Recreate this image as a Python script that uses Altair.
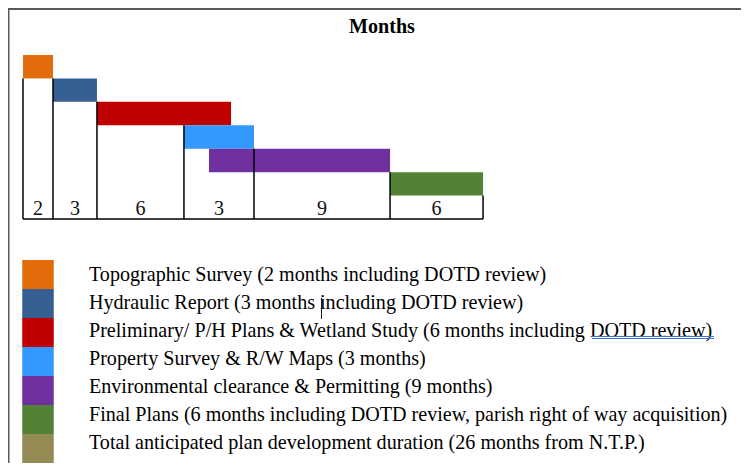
import altair as alt
import pandas as pd

# ---- data ----
tasks = [
    "Topographic Survey",
    "Hydraulic Report",
    "Preliminary/ P/H Plans & Wetland Study",
    "Property Survey & R/W Maps",
    "Environmental clearance & Permitting",
    "Final Plans",
]
# bar extents on the drawn month axis
bar_start = [0, 2, 4.93, 10.73, 12.4, 24.47]
bar_end = [2, 4.93, 13.87, 15.4, 24.47, 30.67]
bar_colors = ["#E36C0A", "#365F91", "#C00000", "#3399FF", "#7030A0", "#538135"]

# table columns under the bars
col_edges = [0, 2, 4.93, 10.73, 15.4, 24.47, 30.67]
col_months = [2, 3, 6, 3, 9, 6]

legend_labels = [
    "Topographic Survey (2 months including DOTD review)",
    "Hydraulic Report (3 months including DOTD review)",
    "Preliminary/ P/H Plans & Wetland Study (6 months including DOTD  review)",
    "Property Survey & R/W Maps (3 months)",
    "Environmental clearance & Permitting (9 months)",
    "Final Plans (6 months including DOTD review, parish right of way acquisition)",
    "Total anticipated plan development duration (26 months from N.T.P.)",
]
legend_colors = bar_colors + ["#948A54"]
title_text = "Months"

# ---- tables ----
n = len(tasks)
bars = pd.DataFrame({
    "task": tasks,
    "start": bar_start,
    "end": bar_end,
    "row": list(range(n)),
    "row_end": [i + 1 for i in range(n)],
    "color": bar_colors,
})
edges = pd.DataFrame({
    "edge": col_edges,
    "top": [max(i, 1) for i in range(len(col_edges))],
    "bottom": [n + 1] * len(col_edges),
})
cols = pd.DataFrame({
    "mid": [(col_edges[i] + col_edges[i + 1]) / 2 for i in range(len(col_months))],
    "months": col_months,
    "base": [n + 1] * len(col_months),
})
baseline_df = pd.DataFrame({"x0": [col_edges[0]], "x1": [col_edges[-1]], "y": [n + 1]})
legend = pd.DataFrame({
    "label": legend_labels,
    "k": list(range(len(legend_labels))),
    "k_end": [i + 1 for i in range(len(legend_labels))],
    "color": legend_colors,
})
one = pd.DataFrame({"t": [title_text]})

W, H = 733, 455
FONT = "Liberation Serif"
FS = 20.1

xs = alt.Scale(domain=[-1, (W - 15) / 15], nice=False, zero=False)
ys = alt.Scale(domain=[-47 / 23.43, (H - 47) / 23.43], reverse=True, nice=False, zero=False)
ls = alt.Scale(domain=[-252 / 29, (H - 252) / 29], reverse=True, nice=False, zero=False)

bar_layer = alt.Chart(bars).mark_rect().encode(
    x=alt.X("start:Q", scale=xs, axis=None),
    x2="end:Q",
    y=alt.Y("row:Q", scale=ys, axis=None),
    y2="row_end:Q",
    color=alt.Color("color:N", scale=None),
)

edge_layer = alt.Chart(edges).mark_rule(color="black", strokeWidth=1.5).encode(
    x=alt.X("edge:Q", scale=xs, axis=None),
    y=alt.Y("top:Q", scale=ys, axis=None),
    y2="bottom:Q",
)

bottom_layer = alt.Chart(baseline_df).mark_rule(color="black", strokeWidth=1.5).encode(
    x=alt.X("x0:Q", scale=xs, axis=None),
    x2="x1:Q",
    y=alt.Y("y:Q", scale=ys, axis=None),
)

month_labels = alt.Chart(cols).mark_text(
    font=FONT, fontSize=FS, color="#111111", baseline="bottom", align="center"
).encode(
    x=alt.X("mid:Q", scale=xs, axis=None),
    y=alt.Y("base:Q", scale=ys, axis=None),
    text="months:N",
)

title_layer = alt.Chart(one).mark_text(
    font=FONT, fontSize=FS, fontWeight="bold", color="#000000",
    baseline="middle", align="center"
).encode(x=alt.value(374), y=alt.value(19), text="t:N")

legend_rects = alt.Chart(legend).mark_rect().encode(
    x=alt.datum(-0.05, scale=xs),
    x2=alt.datum(2.05),
    y=alt.Y("k:Q", scale=ls, axis=None),
    y2="k_end:Q",
    color=alt.Color("color:N", scale=None),
)

legend_text = alt.Chart(legend).transform_calculate(
    ty="0.524 + 0.964 * datum.k"
).mark_text(
    font=FONT, fontSize=FS, color="#000000", baseline="middle", align="left"
).encode(
    x=alt.datum(4.4, scale=xs),
    y=alt.Y("ty:Q", scale=ls, axis=None),
    text="label:N",
)

frame_left = alt.Chart(one).mark_rule(color="#5a5a5a", strokeWidth=1.5).encode(
    x=alt.value(0.75), y=alt.value(0), y2=alt.value(H)
)
frame_top = alt.Chart(one).mark_rule(color="#5a5a5a", strokeWidth=2).encode(
    x=alt.value(0), x2=alt.value(W), y=alt.value(1)
)

# spell-check double underline and text cursor seen in the source
underline1 = alt.Chart(one).mark_rule(color="#4472C4", strokeWidth=1).encode(
    x=alt.value(584), x2=alt.value(706), y=alt.value(328.5)
)
underline2 = alt.Chart(one).mark_rule(color="#4472C4", strokeWidth=1).encode(
    x=alt.value(584), x2=alt.value(706), y=alt.value(330.5)
)
cursor = alt.Chart(one).mark_rule(color="#222222", strokeWidth=1).encode(
    x=alt.value(313.5), y=alt.value(290), y2=alt.value(311)
)

chart = alt.layer(
    frame_left, frame_top,
    bar_layer, edge_layer, bottom_layer, month_labels, title_layer,
    legend_rects, legend_text, underline1, underline2, cursor,
).resolve_scale(y="independent").properties(
    width=W, height=H, padding=0, autosize="none"
).configure_view(stroke=None)

chart.save("out.html", embed_options={"renderer": "svg", "actions": False})
